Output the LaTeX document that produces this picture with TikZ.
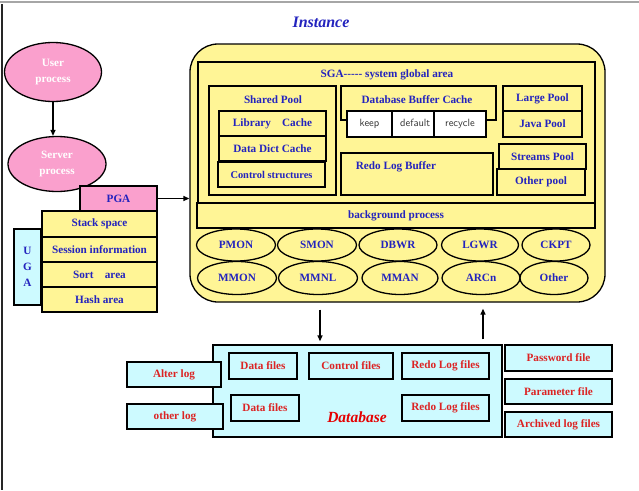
\documentclass[tikz,border=0pt]{standalone}
\usepackage{fontspec}
\setmainfont{Liberation Serif}
\usepackage{xcolor}
\usetikzlibrary{shapes, arrows.meta, positioning}

\definecolor{sgayellow}{RGB}{255,245,150}
\definecolor{procpink}{RGB}{250,160,205}
\definecolor{filecyan}{RGB}{205,250,255}
\definecolor{txtblue}{RGB}{35,35,190}
\definecolor{txtred}{RGB}{220,35,35}

\begin{document}
\begin{tikzpicture}[x=1pt, y=-1pt, >={Triangle[length=6pt, width=5pt]},
            box/.style={draw, rectangle, line width=1.3pt, inner sep=0pt, text=txtblue,
                font=\fontsize{11.2}{13}\selectfont\bfseries},
            ybox/.style={box, fill=sgayellow},
            cbox/.style={box, fill=filecyan, text=txtred},
            cell/.style={box, fill=white, text=black!80, font=\fontsize{10.5}{12}\sffamily},
            proc/.style={draw, ellipse, line width=1.3pt, fill=sgayellow, inner sep=0pt, text=txtblue,
                font=\fontsize{11.2}{13}\selectfont\bfseries},
            client/.style={proc, fill=procpink, text=white, align=center},
            title/.style={inner sep=0pt, text=txtblue, font=\fontsize{11.2}{13}\selectfont\bfseries}]
            \useasboundingbox (0,0) rectangle (639,490);
            \draw[black!35, line width=1.2pt] (0,2) -- (639,2);
            \draw[black!85, line width=1.2pt] (2,4) -- (2,490);

            % client side
            \node[inner sep=0pt, text=txtblue, font=\fontsize{16}{18}\selectfont\bfseries\itshape] (insttitle) at (321,22) {Instance};
            \node[client, minimum width=97, minimum height=59] (user) at (53,72) {User\\[3pt]process};
            \node[client, minimum width=98, minimum height=55] (server) at (57,164) {Server\\[3pt]process};
            \node[box, fill=procpink, minimum width=77, minimum height=25] (pga) at (118.5,198.5) {PGA};
            \node[ybox, minimum width=115, minimum height=26] (stack) at (99.5,224) {Stack space};
            \node[ybox, minimum width=115, minimum height=25] (session) at (99.5,249.5) {Session information};
            \node[ybox, minimum width=115, minimum height=25] (sort) at (99.5,274.5) {Sort\quad area};
            \node[ybox, minimum width=115, minimum height=25] (hash) at (99.5,299.5) {Hash area};
            \node[box, fill=filecyan, minimum width=27, minimum height=76, align=center] (uga) at (27.5,267) {U\\[3pt]G\\[3pt]A};

            % instance
            \node[draw, line width=1.3pt, fill=sgayellow, rounded corners=28, minimum width=415, minimum height=258] (inst) at (397.5,173) {};
            \node[ybox, minimum width=397, minimum height=141] (sga) at (396.5,132.5) {};
            \node[title] (sgatitle) at (387,75) {SGA-\kern0pt-\kern0pt-\kern0pt-\kern0pt- system global area};

            \node[ybox, minimum width=127, minimum height=109] (shared) at (272.5,140.5) {};
            \node[title] (sharedtitle) at (273,100) {Shared Pool};
            \node[ybox, minimum width=107, minimum height=25] (library) at (272.5,123.5) {Library\quad Cache};
            \node[ybox, minimum width=107, minimum height=25] (dict) at (272.5,148.5) {Data Dict Cache};
            \node[ybox, minimum width=107, minimum height=25, font=\fontsize{10.4}{12}\selectfont\bfseries] (control) at (271.5,174.5) {Control structures};

            \node[ybox, minimum width=155, minimum height=34] (buffer) at (418.5,103) {};
            \node[title] (buffertitle) at (417,100) {Database Buffer Cache};
            \node[cell, minimum width=45, minimum height=26] (keep) at (369.5,124) {keep};
            \node[cell, minimum width=42, minimum height=26] (default) at (413,124) {};
            \node[inner sep=0pt, anchor=west, text=black!80, font=\fontsize{10.5}{12}\sffamily] (defaulttext) at (400,123) {default};
            \node[cell, minimum width=52, minimum height=26] (recycle) at (460,124) {recycle};

            \node[ybox, minimum width=152, minimum height=42] (redobuf) at (417,174) {};
            \node[title] (redotitle) at (396,167) {Redo Log Buffer};

            \node[ybox, minimum width=79, minimum height=25] (large) at (542.5,98.5) {Large Pool};
            \node[ybox, minimum width=79, minimum height=26] (java) at (542.5,124) {Java Pool};
            \node[ybox, minimum width=87, minimum height=25] (streams) at (542.5,156.5) {Streams Pool};
            \node[ybox, minimum width=88, minimum height=26] (otherpool) at (541,182) {Other pool};

            \node[ybox, minimum width=398, minimum height=25] (bg) at (396,215.5) {background process};

            \node[proc, minimum width=79, minimum height=32] (pmon) at (236,245) {PMON};
            \node[proc, minimum width=79, minimum height=32] (smon) at (317,245) {SMON};
            \node[proc, minimum width=78, minimum height=32] (dbwr) at (398,245) {DBWR};
            \node[proc, minimum width=77, minimum height=32] (lgwr) at (480,245) {LGWR};
            \node[proc, minimum width=68, minimum height=32] (ckpt) at (556,245) {CKPT};
            \node[proc, minimum width=79, minimum height=33] (mmon) at (237,278) {MMON};
            \node[proc, minimum width=79, minimum height=33] (mmnl) at (318,278) {MMNL};
            \node[proc, minimum width=76, minimum height=33] (mman) at (400,278) {MMAN};
            \node[proc, minimum width=78, minimum height=33] (arcn) at (481,278) {ARCn};
            \node[proc, minimum width=68, minimum height=33] (otherproc) at (554,278) {Other};

            % database
            \node[cbox, minimum width=289, minimum height=92] (db) at (357.5,391) {};
            \node[inner sep=0pt, text=red!90!black, font=\fontsize{15.5}{18}\selectfont\bfseries\itshape] (dbtitle) at (357,417) {Database};
            \node[cbox, minimum width=68, minimum height=26] (data1) at (263,366) {Data files};
            \node[cbox, minimum width=84, minimum height=26] (ctlfiles) at (351,366) {Control files};
            \node[cbox, minimum width=87, minimum height=26] (redo1) at (445.5,366) {Redo Log files};
            \node[cbox, minimum width=68, minimum height=26] (data2) at (265,408) {Data files};
            \node[cbox, minimum width=87, minimum height=26] (redo2) at (445.5,408) {Redo Log files};
            \node[cbox, minimum width=94, minimum height=25] (alter) at (174,374.5) {Alter log};
            \node[cbox, minimum width=96, minimum height=25] (otherlog) at (175,416.5) {other log};
            \node[cbox, minimum width=107, minimum height=26] (password) at (558.5,358) {Password file};
            \node[cbox, minimum width=107, minimum height=25] (parameter) at (558.5,391.5) {Parameter file};
            \node[cbox, minimum width=107, minimum height=25] (archived) at (558.5,424.5) {Archived log files};

            \draw[->, line width=1.3pt] (user.south) -- (user.south |- server.north);
            \draw[->, line width=1.3pt] (pga.east) -- (pga.east -| inst.west);
            \draw[->, line width=1.3pt, shorten <=7pt, shorten >=3pt] ([xshift=-77.5]inst.south) -- ([xshift=-37.5]db.north);
            \draw[->, line width=1.3pt, shorten <=5pt, shorten >=6pt] ([xshift=125.5]db.north) -- ([xshift=85.5]inst.south);
        \end{tikzpicture}
\end{document}
